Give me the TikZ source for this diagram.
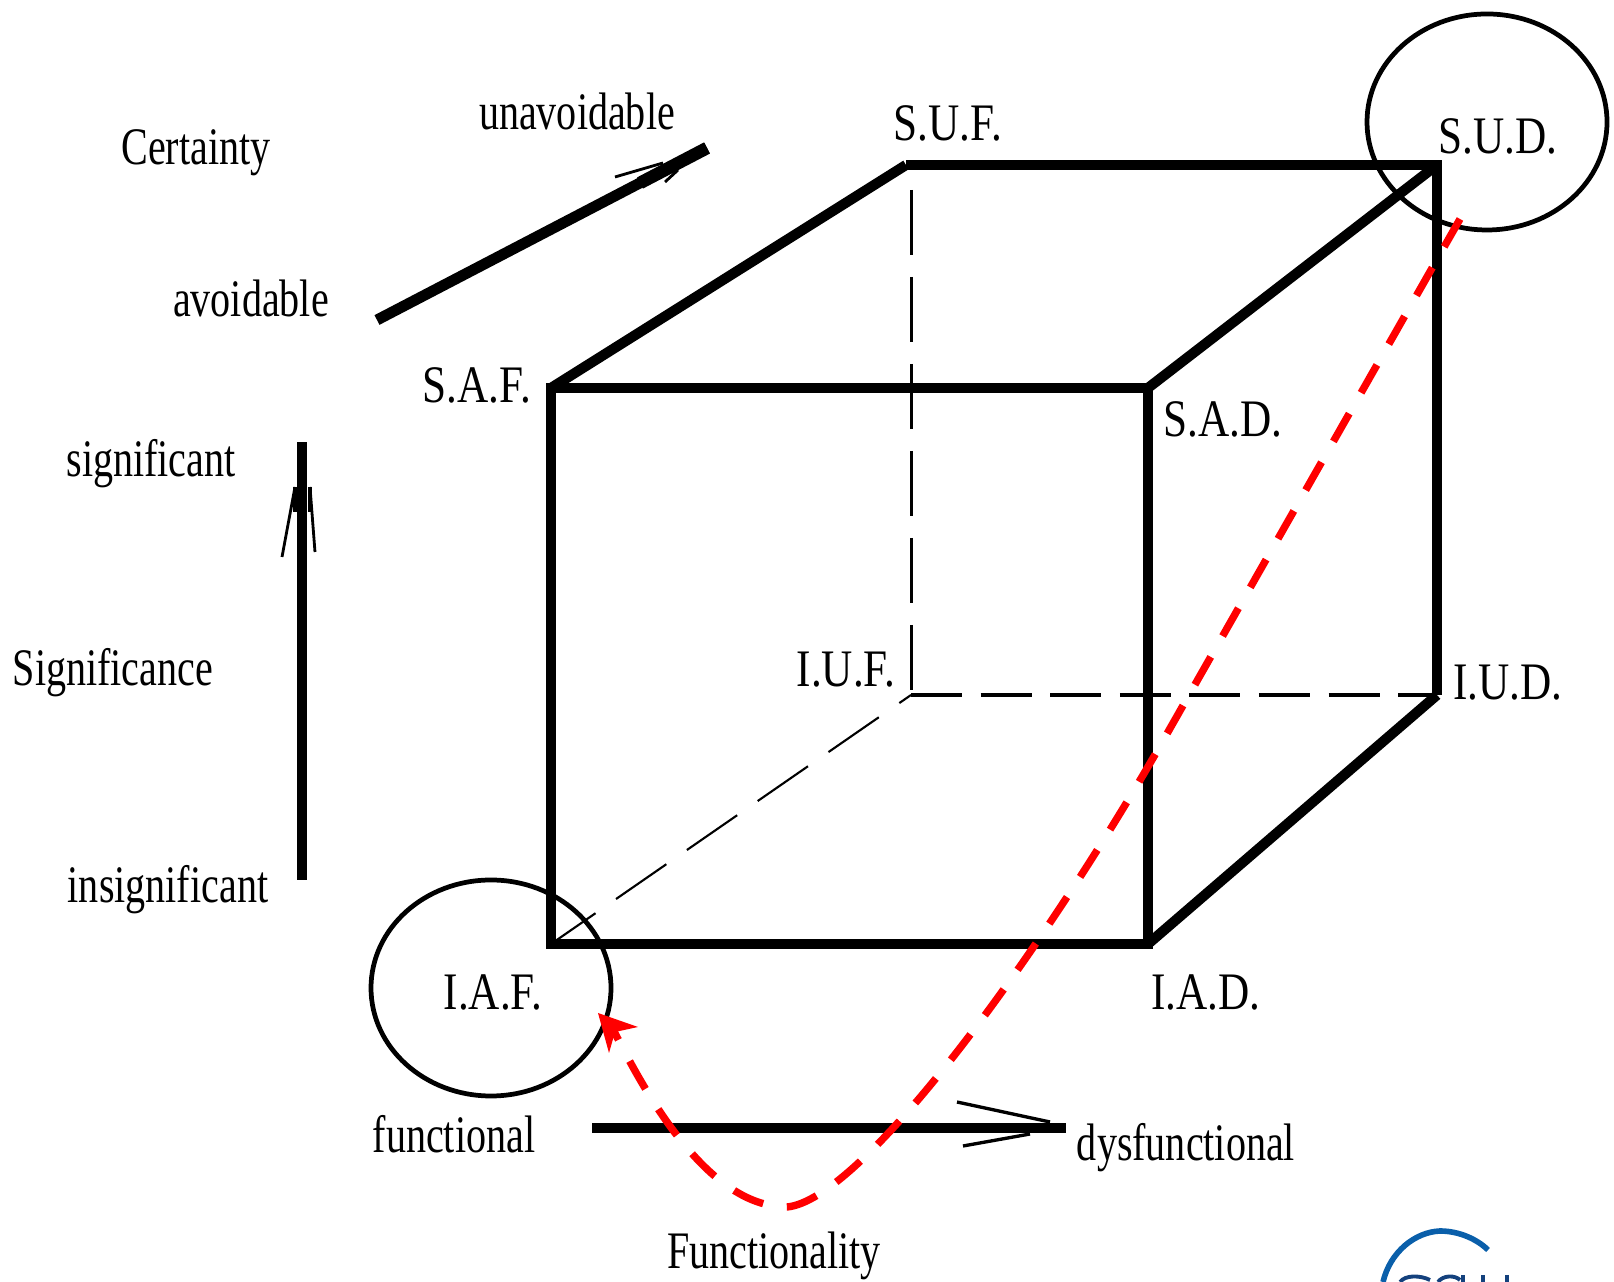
\documentclass[tikz,border=0pt]{standalone}
\usepackage{fontspec}
\setmainfont[FakeStretch=0.76]{Liberation Serif}
\newfontfamily\cnrfont[FakeStretch=0.82]{Liberation Serif}
\usepackage{tikz}
\usetikzlibrary{arrows.meta,shapes.geometric}
\definecolor{logoblue}{RGB}{10,95,170}
\definecolor{logodark}{RGB}{20,65,125}
\tikzset{
  lb/.style={font=\fontsize{15}{15}\selectfont,anchor=base,inner sep=0pt},
  lbc/.style={font=\cnrfont\fontsize{15}{15}\selectfont,anchor=base,inner sep=0pt},
  edg/.style={draw=black,line width=2.6pt,line join=miter},
  edgs/.style={draw=black,line width=2.9pt},
  edgv/.style={draw=black,line width=.85pt,dash pattern=on 18.5pt off 6.25pt},
  edgd/.style={draw=black,line width=1.1pt,dash pattern=on 14.5pt off 5.3pt},
  edgt/.style={draw=black,line width=.6pt,dash pattern=on 17.4pt off 7.1pt,dash phase=2pt},
  shaft/.style={draw=black,line width=2.8pt},
  barb/.style={draw=black,line width=.8pt},
  ring/.style={ellipse,draw=black,line width=1.35pt,minimum width=2.40cm,minimum height=2.16cm,inner sep=0pt},
  route/.style={draw=red,line width=2.1pt,dash pattern=on 9.1pt off 6.83pt},
  logo/.style={draw=logoblue,line width=1.6pt},
  logot/.style={draw=logodark,line width=1.1pt},
}
\begin{document}
\begin{tikzpicture}
\useasboundingbox (0,0) rectangle (16.14,12.82);
% ---- cube corners
\coordinate (suf) at (9.06,11.17); \coordinate (sud) at (14.37,11.17);
\coordinate (saf) at (5.51,8.94);  \coordinate (sad) at (11.48,8.94);
\coordinate (iaf) at (5.51,3.38);  \coordinate (iad) at (11.48,3.38);
\coordinate (iuf) at (9.11,5.87);  \coordinate (iud) at (14.37,5.87);
\coordinate (sufd) at (9.11,10.92);
% ---- hidden edges
\draw[edgv] (sufd)--(iuf);
\draw[edgd] (iuf)--(iud);
\draw[edgt] (iaf)--(iuf);
% ---- visible edges
\draw[edg] (saf) rectangle (iad);
\draw[edg] (suf)--(sud)--(iud);
\draw[edgs] (saf)--(suf) (sad)--(sud) (iud)--(iad);
% ---- corner labels
\node[lbc] (lsuf) at (9.48,11.41) {S.U.F.};
\node[lbc] (lsud) at (14.98,11.28) {S.U.D.};
\node[lbc] (lsaf) at (4.77,8.79) {S.A.F.};
\node[lbc] (lsad) at (12.23,8.45) {S.A.D.};
\node[lbc] (liuf) at (8.46,5.95) {I.U.F.};
\node[lbc] (liud) at (15.08,5.82) {I.U.D.};
\node[lbc] (liaf) at (4.93,2.72) {I.A.F.};
\node[lbc] (liad) at (12.06,2.72) {I.A.D.};
% ---- rings
\node[ring] (rsud) at (14.87,11.60) {};
\node[ring] (riaf) at (4.91,2.94) {};
% ---- certainty
\node[lb] (lcert) at (1.96,11.17) {Certainty};
\node[lb] (lunav) at (5.77,11.52) {unavoidable};
\node[lb] (lavoi) at (2.51,9.65) {avoidable};
\coordinate (ca) at (3.77,9.62); \coordinate (cb) at (7.07,11.34);
\coordinate (cc) at (6.15,11.05); \coordinate (cd) at (6.65,11.00);
\coordinate (ce) at (6.63,11.19); \coordinate (cf) at (6.78,11.12);
\coordinate (cg) at (6.40,10.99);
\draw[shaft,line width=3.1pt] (ca)--(cb);
\draw[shaft,line width=3.6pt] (cg)--(cb);
\draw[barb] (cc)--(ce) (cd)--(cf);
% ---- significance
\node[lb] (lsign) at (1.51,8.05) {significant};
\node[lb] (lsgnc) at (1.13,5.96) {Significance};
\node[lb] (linsi) at (1.68,3.79) {insignificant};
\coordinate (sa) at (3.02,4.02); \coordinate (sb) at (3.02,8.40);
\coordinate (sc) at (2.82,7.25); \coordinate (sd) at (3.15,7.30);
\coordinate (se) at (2.95,7.95); \coordinate (sf) at (3.10,7.95);
\coordinate (sg) at (2.95,7.70); \coordinate (sh) at (3.10,7.70);
\draw[shaft] (sa)--(sb);
\draw[barb] (sc)--(se) (sd)--(sf);
\draw[draw=black,line width=1.2pt] (se)--(sg) (sf)--(sh);
% ---- functionality
\node[lb] (lfunc) at (4.54,1.29) {functional};
\node[lb] (ldysf) at (11.86,1.21) {dysfunctional};
\node[lb] (lfnty) at (7.74,0.13) {Functionality};
\coordinate (fa) at (5.92,1.54); \coordinate (fb) at (10.66,1.54);
\coordinate (fc) at (9.57,1.80); \coordinate (fd) at (9.63,1.36);
\coordinate (fe) at (10.50,1.60); \coordinate (ff) at (10.30,1.48);
\draw[shaft] (fa)--(fb);
\draw[barb,line width=.95pt] (fc)--(fe) (fd)--(ff);
% ---- red route
\coordinate (pa) at (14.60,10.63); \coordinate (pb) at (11.56,5.29);
\coordinate (pc) at (7.87,0.75);   \coordinate (pd) at (6.10,2.59);
\coordinate (pe) at (5.98,2.69);
\draw[route] (pa)--(pb) .. controls (10.30,3.12) and (8.60,0.82) .. (pc)
  .. controls (7.15,0.75) and (6.55,1.67) .. (pd);
\fill[red] (pe)--(6.38,2.55)--(6.15,2.50)--(6.09,2.29)--cycle;
% ---- logo at the lower edge
\begin{scope}
  \clip (13.79,0) rectangle (15.5,0.55);
  \draw[logo] (13.83,0) .. controls (13.90,0.30) and (14.15,0.50) .. (14.40,0.51)
    .. controls (14.60,0.51) and (14.78,0.42) .. (14.88,0.32);
  \draw[logot] (14.00,0) .. controls (14.05,0.07) and (14.20,0.07) .. (14.30,0.02);
  \draw[logot] (14.38,0) .. controls (14.43,0.07) and (14.55,0.07) .. (14.60,0.02);
  \draw[logot] (14.63,0.07)--(14.63,0) (14.83,0.07)--(14.83,0) (15.07,0.07)--(15.07,0);
\end{scope}
\end{tikzpicture}
\end{document}
